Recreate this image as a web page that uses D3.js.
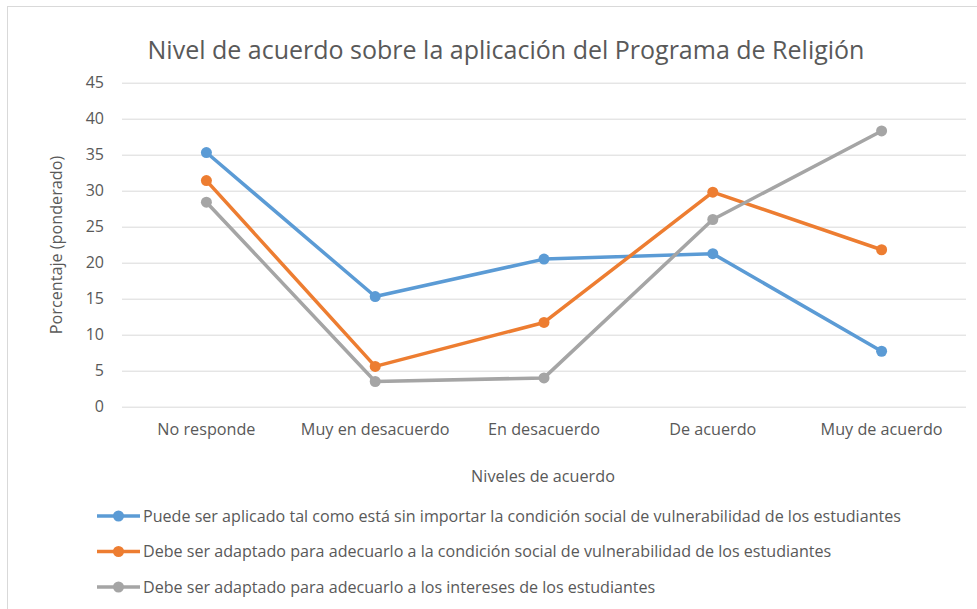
<!DOCTYPE html>
<html>
<head>
<meta charset="utf-8">
<script src="https://cdn.jsdelivr.net/npm/d3@7"></script>
<style>
  body { margin: 0; background: #fff; }
  text { font-family: "Open Sans", sans-serif; fill: #595959; }
</style>
</head>
<body>
<div id="chart"></div>
<script>
var categories = ["No responde", "Muy en desacuerdo", "En desacuerdo", "De acuerdo", "Muy de acuerdo"];
var seriesNames = [
  "Puede ser aplicado tal como está sin importar la condición social de vulnerabilidad de los estudiantes",
  "Debe ser adaptado para adecuarlo a la condición social de vulnerabilidad de los estudiantes",
  "Debe ser adaptado para adecuarlo a los intereses de los estudiantes"
];
var aplicado = [35.3, 15.3, 20.5, 21.25, 7.7];
var adaptadoVulnerab = [31.4, 5.6, 11.7, 29.8, 21.8];
var adaptadoIntereses = [28.4, 3.5, 4.0, 26.0, 38.3];
var yTicks = [0, 5, 10, 15, 20, 25, 30, 35, 40, 45];
var colors = ["#5b9bd5", "#ed7d31", "#a5a5a5"];

var series = [aplicado, adaptadoVulnerab, adaptadoIntereses];

var W = 977, H = 609;
var margin = {top: 82.7, right: 11, bottom: 202.3, left: 122};
var width = W - margin.left - margin.right,
    height = H - margin.top - margin.bottom;

var svg = d3.select("#chart")
  .append("svg")
    .attr("width", W)
    .attr("height", H);

// chart border
svg.append("rect")
  .attr("x", 7.5).attr("y", 6.5)
  .attr("width", W).attr("height", H)
  .attr("fill", "none")
  .attr("stroke", "#d9d9d9");

var g = svg.append("g")
  .attr("transform", "translate(" + margin.left + "," + margin.top + ")");

var x = d3.scaleBand()
  .domain(categories)
  .range([0, width]);

var y = d3.scaleLinear()
  .domain([0, 45])
  .range([height, 0]);

// gridlines + y labels
var yAxis = g.append("g")
  .call(d3.axisLeft(y).tickValues(yTicks).tickSize(-width).tickPadding(18));
yAxis.select(".domain").remove();
yAxis.selectAll(".tick line").attr("stroke", "#d9d9d9").attr("stroke-width", 1);
yAxis.selectAll(".tick text")
  .attr("font-size", 16)
  .attr("fill", "#595959")
  .style("font-family", "'Open Sans', sans-serif");

// x labels
var xAxis = g.append("g")
  .attr("transform", "translate(0," + height + ")")
  .call(d3.axisBottom(x).tickSize(0).tickPadding(17));
xAxis.select(".domain").remove();
xAxis.selectAll(".tick text")
  .attr("font-size", 16.2)
  .attr("fill", "#595959")
  .style("font-family", "'Open Sans', sans-serif");

var line = d3.line()
  .x(function(d, i) { return x(categories[i]) + x.bandwidth() / 2; })
  .y(function(d) { return y(d); });

series.forEach(function(s, k) {
  g.append("path")
    .datum(s)
    .attr("fill", "none")
    .attr("stroke", colors[k])
    .attr("stroke-width", 3.5)
    .attr("stroke-linejoin", "round")
    .attr("d", line);
  g.selectAll(".pt" + k)
    .data(s)
    .enter().append("circle")
      .attr("cx", function(d, i) { return x(categories[i]) + x.bandwidth() / 2; })
      .attr("cy", function(d) { return y(d); })
      .attr("r", 5.5)
      .attr("fill", colors[k]);
});

// title
svg.append("text")
  .attr("x", 506).attr("y", 59)
  .attr("text-anchor", "middle")
  .attr("font-size", 25)
  .text("Nivel de acuerdo sobre la aplicación del Programa de Religión");

// axis titles
svg.append("text")
  .attr("transform", "translate(62,245) rotate(-90)")
  .attr("text-anchor", "middle")
  .attr("font-size", 16.2)
  .text("Porcentaje (ponderado)");

svg.append("text")
  .attr("x", 543).attr("y", 482)
  .attr("text-anchor", "middle")
  .attr("font-size", 16.2)
  .text("Niveles de acuerdo");

// legend
var legend = svg.append("g");
seriesNames.forEach(function(name, k) {
  var ly = 516 + k * 35.5;
  legend.append("line")
    .attr("x1", 97).attr("x2", 140)
    .attr("y1", ly).attr("y2", ly)
    .attr("stroke", colors[k]).attr("stroke-width", 3.5);
  legend.append("circle")
    .attr("cx", 118.5).attr("cy", ly).attr("r", 5.5)
    .attr("fill", colors[k]);
  legend.append("text")
    .attr("x", 143).attr("y", ly + 5.5)
    .attr("font-size", 16.1)
    .text(name);
});
</script>
</body>
</html>
